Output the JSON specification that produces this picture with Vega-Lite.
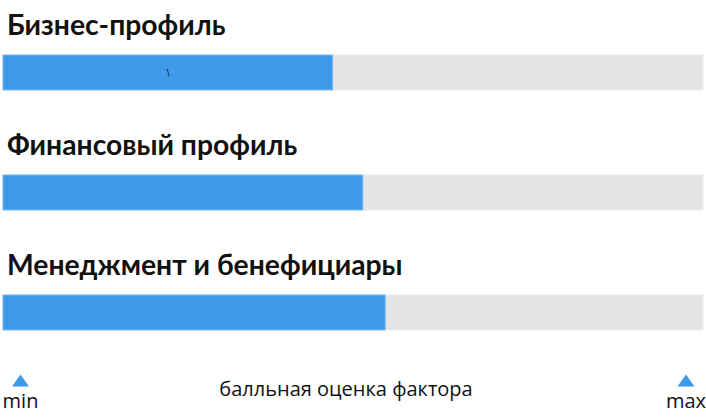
{
  "$schema": "https://vega.github.io/schema/vega-lite/v6.json",
  "width": 700,
  "height": 419,
  "padding": {"left": 3, "right": 3, "top": 0, "bottom": 0},
  "autosize": "none",
  "background": "white",
  "config": {"view": {"stroke": null}},
  "datasets": {
    "factors": [
      {"factor": "Бизнес-профиль", "score": 47.1, "max": 100},
      {"factor": "Финансовый профиль", "score": 51.4, "max": 100},
      {"factor": "Менеджмент и бенефициары", "score": 54.6, "max": 100}
    ],
    "notes": [
      {"factor": "Бизнес-профиль", "note": "\\", "at": 23.6}
    ],
    "footer": [
      {"label": "min", "at": 2.5, "marker": 0, "text": 1},
      {"label": "max", "at": 97.57, "marker": 0, "text": 1}
    ],
    "caption": [
      {"label": "балльная оценка фактора", "at": 49.0, "level": 0.57}
    ]
  },
  "layer": [
    {
      "layer": [
        {
          "data": {"name": "factors"},
          "mark": {"type": "bar", "color": "#e5e5e5", "stroke": "#ececec", "strokeWidth": 1},
          "encoding": {
            "y": {"field": "factor", "type": "nominal", "sort": null,
                  "scale": {"type": "band", "range": [55, 330], "paddingInner": 0.7083, "paddingOuter": 0}, "axis": null},
            "x": {"field": "max", "type": "quantitative", "scale": {"domain": [0, 100], "range": [0, 700], "nice": false}, "axis": null}
          }
        },
        {
          "data": {"name": "factors"},
          "mark": {"type": "bar", "color": "#3d9ae8", "stroke": "#7db9ef", "strokeWidth": 1},
          "encoding": {
            "y": {"field": "factor", "type": "nominal", "sort": null, "axis": null},
            "x": {"field": "score", "type": "quantitative", "axis": null}
          }
        },
        {
          "data": {"name": "factors"},
          "mark": {"type": "text", "align": "left", "baseline": "alphabetic", "dx": 4, "dy": -20, "font": "Lato", "fontWeight": "bold", "fontSize": 28.3, "color": "#111111"},
          "encoding": {
            "y": {"field": "factor", "type": "nominal", "sort": null, "bandPosition": 0, "axis": null},
            "x": {"datum": 0, "type": "quantitative", "axis": null},
            "text": {"field": "factor"}
          }
        },
        {
          "data": {"name": "notes"},
          "mark": {"type": "text", "align": "center", "baseline": "middle", "font": "DejaVu Sans", "fontSize": 9, "color": "#111111"},
          "encoding": {
            "y": {"field": "factor", "type": "nominal", "sort": null, "axis": null},
            "x": {"field": "at", "type": "quantitative", "axis": null},
            "text": {"field": "note"}
          }
        }
      ]
    },
    {
      "layer": [
        {
          "data": {"name": "footer"},
          "mark": {"type": "point", "shape": "M -1 0.72 L 0 -0.72 L 1 0.72 Z", "filled": true, "color": "#3d9ae8", "size": 289, "opacity": 1, "strokeWidth": 0},
          "encoding": {
            "x": {"field": "at", "type": "quantitative", "axis": null},
            "y": {"field": "marker", "type": "quantitative", "scale": {"domain": [0, 1], "range": [380.5, 408]}, "axis": null}
          }
        },
        {
          "data": {"name": "footer"},
          "mark": {"type": "text", "align": "center", "baseline": "alphabetic", "font": "Open Sans", "fontSize": 20, "color": "#111111"},
          "encoding": {
            "x": {"field": "at", "type": "quantitative", "axis": null},
            "y": {"field": "text", "type": "quantitative", "axis": null},
            "text": {"field": "label"}
          }
        },
        {
          "data": {"name": "caption"},
          "mark": {"type": "text", "align": "center", "baseline": "alphabetic", "font": "Open Sans", "fontSize": 20, "color": "#111111"},
          "encoding": {
            "x": {"field": "at", "type": "quantitative", "axis": null},
            "y": {"field": "level", "type": "quantitative", "axis": null},
            "text": {"field": "label"}
          }
        }
      ]
    }
  ],
  "resolve": {"scale": {"y": "independent"}}
}
